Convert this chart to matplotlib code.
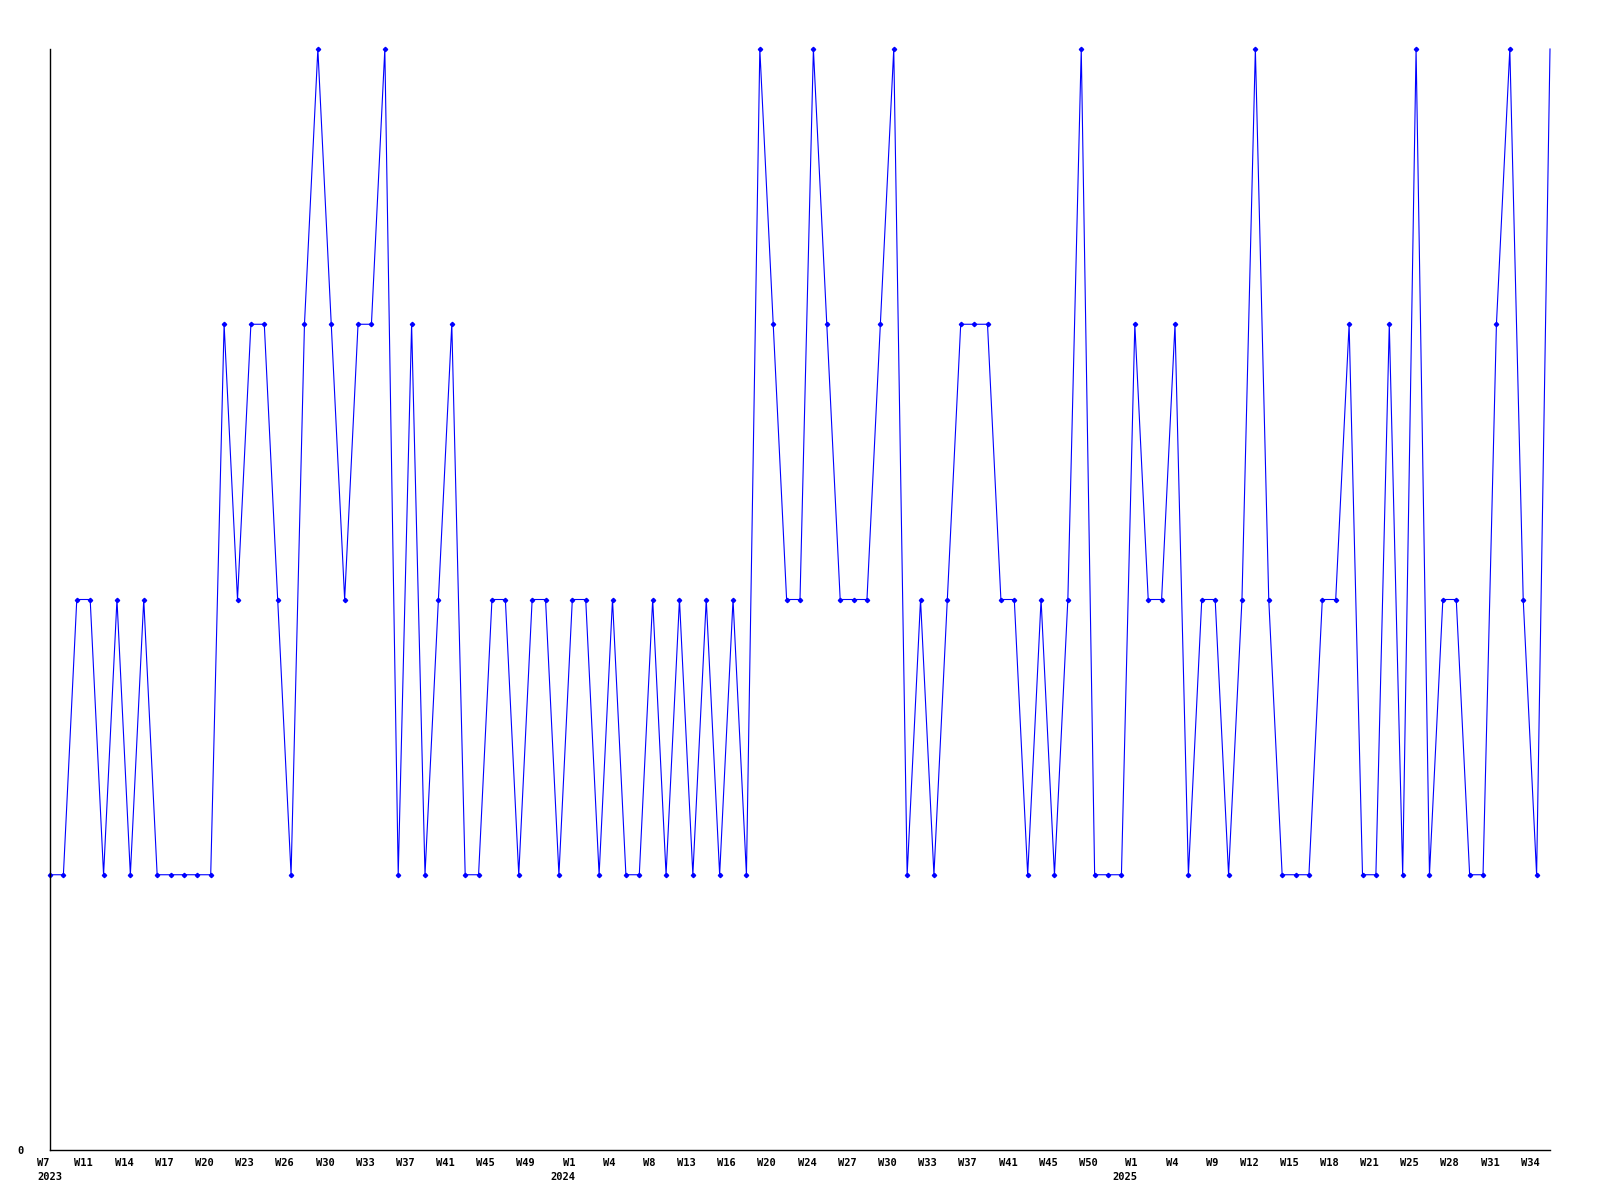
import matplotlib
matplotlib.use("Agg")
import matplotlib.pyplot as plt
from matplotlib.transforms import ScaledTranslation

values = [1, 1, 2, 2, 1, 2, 1, 2, 1, 1,
          1, 1, 1, 3, 2, 3, 3, 2, 1, 3,
          4, 3, 2, 3, 3, 4, 1, 3, 1, 2,
          3, 1, 1, 2, 2, 1, 2, 2, 1, 2,
          2, 1, 2, 1, 1, 2, 1, 2, 1, 2,
          1, 2, 1, 4, 3, 2, 2, 4, 3, 2,
          2, 2, 3, 4, 1, 2, 1, 2, 3, 3,
          3, 2, 2, 1, 2, 1, 2, 4, 1, 1,
          1, 3, 2, 2, 3, 1, 2, 2, 1, 2,
          4, 2, 1, 1, 1, 2, 2, 3, 1, 1,
          3, 1, 4, 1, 2, 2, 1, 1, 3, 4,
          2, 1, 4]

week_labels = ["W7", "W11", "W14", "W17", "W20", "W23", "W26", "W30", "W33", "W37",
               "W41", "W45", "W49", "W1", "W4", "W8", "W13", "W16", "W20", "W24",
               "W27", "W30", "W33", "W37", "W41", "W45", "W50", "W1", "W4", "W9",
               "W12", "W15", "W18", "W21", "W25", "W28", "W31", "W34"]
year_labels = {0: "2023", 13: "2024", 27: "2025"}
label_step = 3

fig = plt.figure(figsize=(16, 12), dpi=100)
ax = fig.add_axes([50/1600, 50/1200, 1500/1600, 1101/1200])

x = list(range(len(values)))
ax.plot(x, values, color="#0000ff", linewidth=0.8, marker="D", markersize=2.2,
        markevery=list(range(len(values) - 1)), clip_on=False)

ax.set_xlim(0, len(values) - 1)
ax.set_ylim(0, 4)

for s in ["top", "right"]:
    ax.spines[s].set_visible(False)
for s in ["left", "bottom"]:
    ax.spines[s].set_linewidth(1.0)
    ax.spines[s].set_color("black")

font = dict(family="DejaVu Sans Mono", weight="bold", size=7.5)

ticks = [i * label_step for i in range(len(week_labels))]
texts = []
for i, w in enumerate(week_labels):
    texts.append(w + ("\n" + year_labels[i] if i in year_labels else ""))
ax.set_xticks(ticks)
ax.set_xticklabels(texts, ha="right", multialignment="right", linespacing=1.45, **font)
ax.tick_params(axis="x", length=0, pad=6)
labs = ax.get_xticklabels()
for k, lab in enumerate(labs):
    if k == 0:
        lab.set_ha("left")
        lab.set_multialignment("left")
        lab.set_transform(lab.get_transform() + ScaledTranslation(-13/100, 0, fig.dpi_scale_trans))
    else:
        lab.set_transform(lab.get_transform() + ScaledTranslation(3/100, 0, fig.dpi_scale_trans))

ax.set_yticks([0])
ax.set_yticklabels(["0"], **font)
ax.tick_params(axis="y", length=0, pad=19)

fig.savefig("out.png", dpi=100)
